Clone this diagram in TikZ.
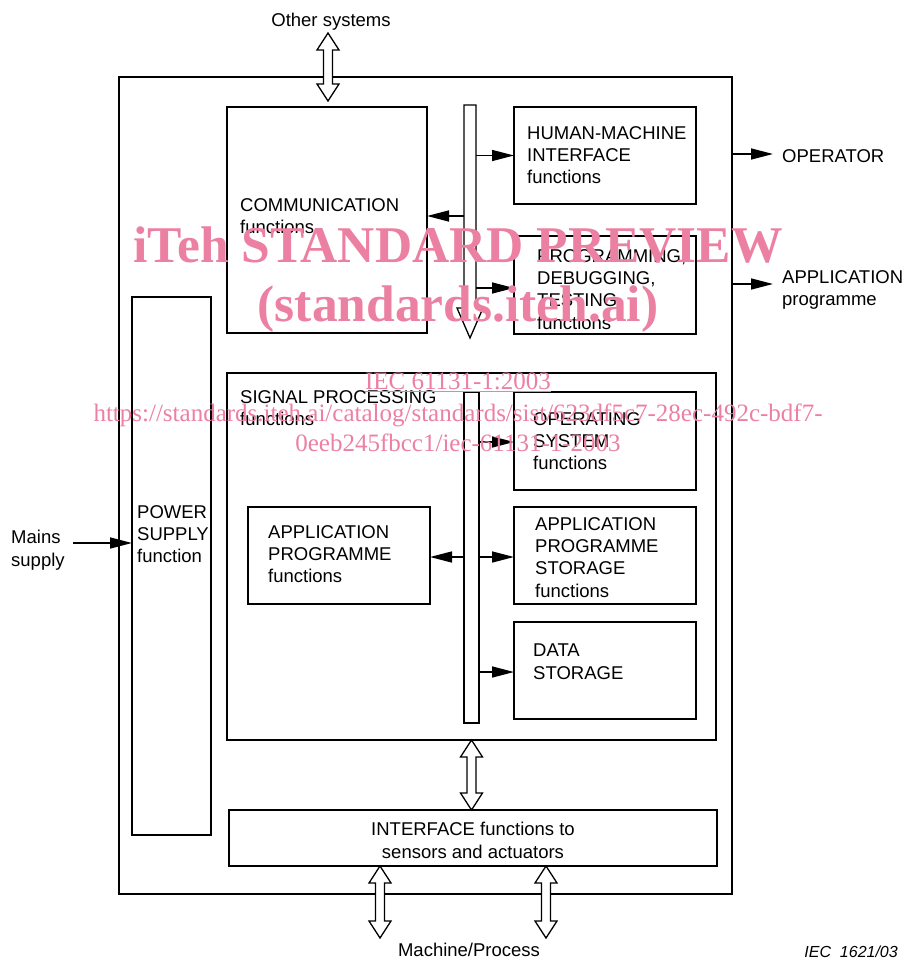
\documentclass[tikz,border=0pt]{standalone}
\usepackage{fontspec}
\setmainfont{Liberation Sans}
\newfontfamily\wmfont{Liberation Serif}
\usetikzlibrary{arrows.meta,calc}
\definecolor{wmpink}{RGB}{236,128,162}
\newcommand\hollowdbl[2]{%
  \draw[hollow] let \p1=#1, \p2=#2 in
    (\x1,\y1) -- (\x1+11pt,\y1-17pt) -- (\x1+4.5pt,\y1-17pt) -- (\x1+4.5pt,\y2+17pt)
    -- (\x1+11pt,\y2+17pt) -- (\x1,\y2) -- (\x1-11pt,\y2+17pt) -- (\x1-4.5pt,\y2+17pt)
    -- (\x1-4.5pt,\y1-17pt) -- (\x1-11pt,\y1-17pt) -- cycle;}
\begin{document}
\begin{tikzpicture}[x=1pt,y=-1pt,
  box/.style={draw, line width=1.5pt, inner sep=0pt, outer sep=0pt, anchor=north west},
  hollow/.style={draw, fill=white, line width=1.3pt, line join=miter},
  conn/.style={line width=1.5pt, -{Triangle[length=22pt,width=11pt]}},
  lbl/.style={font=\fontsize{18.5}{22.4}\selectfont, align=left, inner sep=0pt, anchor=north west},
  wm/.style={text=wmpink, inner sep=0pt, anchor=base}]
\useasboundingbox (0,0) rectangle (906,960);

% frame and boxes
\node[box, minimum width=613pt, minimum height=817pt] (frame) at (119,77) {};
\node[box, minimum width=200pt, minimum height=226pt] (comm) at (227,107) {};
\node[box, minimum width=182pt, minimum height=97pt] (hmi) at (514,107) {};
\node[box, minimum width=182pt, minimum height=98pt] (prog) at (514,236) {};
\node[box, minimum width=79pt, minimum height=538pt] (power) at (132,297) {};
\node[box, minimum width=489pt, minimum height=367pt] (sp) at (227,373) {};
\node[box, minimum width=182pt, minimum height=98pt] (os) at (514,392) {};
\node[box, minimum width=182pt, minimum height=97pt] (ap) at (248,507) {};
\node[box, minimum width=182pt, minimum height=97pt] (aps) at (514,507) {};
\node[box, minimum width=182pt, minimum height=97pt] (data) at (514,622) {};
\node[box, minimum width=488pt, minimum height=56pt] (iface) at (229,810) {};

% buses
\node[inner sep=0pt, outer sep=0pt, minimum width=12pt, minimum height=203pt, anchor=north] (bus1) at (470,105) {};
\draw[hollow] (bus1.north west) -- (bus1.north east) -- (bus1.south east) -- ++(7pt,0pt)
  -- ($(bus1.south)+(0,30)$) -- ($(bus1.south west)+(-7,0)$) -- (bus1.south west) -- cycle;
\node[box, anchor=north, minimum width=15pt, minimum height=331pt] (bus2) at (471.5,392) {};

% labels
\node[lbl] (commt) at (240,198) {COMMUNICATION\\functions};
\node[lbl] (hmit) at (527,126) {HUMAN-MACHINE\\INTERFACE\\functions};
\node[lbl] (progt) at (537,249) {PROGRAMMING,\\DEBUGGING,\\TESTING\\functions};
\node[lbl] (spt) at (240,390) {SIGNAL PROCESSING\\functions};
\node[lbl] (ost) at (533,412) {OPERATING\\SYSTEM\\functions};
\node[lbl] (apt) at (268,525) {APPLICATION\\PROGRAMME\\functions};
\node[lbl] (apst) at (535,517) {APPLICATION\\PROGRAMME\\STORAGE\\functions};
\node[lbl] (datat) at (533,644) {DATA\\STORAGE};
\node[lbl] (powert) at (137,505) {POWER\\SUPPLY\\function};
\node[lbl] (mainst) at (11,530) {Mains\\supply};
\node[lbl] (opt) at (782,149) {OPERATOR};
\node[lbl] (applt) at (782,270) {APPLICATION\\programme};
\node[lbl, align=center, anchor=north] (ifacet) at (473,822) {INTERFACE functions to\\sensors and actuators};
\node[lbl, anchor=north] (othert) at (331,13) {Other systems};
\node[lbl, anchor=north] (macht) at (469,943) {Machine/Process};
\node[inner sep=0pt, anchor=base east, font=\fontsize{16}{18}\selectfont\itshape] (ieclbl) at (898,957) {IEC\ \ 1621/03};

% connectors from buses
\coordinate (y216) at (0,216);
\coordinate (y288) at (0,288);
\draw[conn] (bus1.east |- hmi.west) -- (hmi.west);
\draw[conn] (bus1.west |- y216) -- (comm.east |- y216);
\draw[conn] (bus1.east |- y288) -- (prog.west |- y288);
\coordinate (y442) at (0,442);
\coordinate (y557) at (0,557);
\coordinate (y672) at (0,672);
\draw[conn] (bus2.east |- y442) -- (os.west |- y442);
\draw[conn] (bus2.west |- y557) -- (ap.east |- y557);
\draw[conn] (bus2.east |- y557) -- (aps.west |- y557);
\draw[conn] (bus2.east |- y672) -- (data.west |- y672);

% outside arrows
\coordinate (opend) at (773,154);
\coordinate (apend) at (773,284);
\draw[conn] (frame.east |- opend) -- (opend);
\draw[conn] (frame.east |- apend) -- (apend);
\coordinate (mainsstart) at (73,543);
\draw[conn] (mainsstart) -- (mainsstart -| power.west);

% hollow double arrows
\coordinate (o1) at (328,33);
\coordinate (o2) at (328,101);
\hollowdbl{(o1)}{(o2)}
\hollowdbl{(sp.south)}{(sp.south |- iface.north)}
\coordinate (m1) at (380,938);
\coordinate (m2) at (546,938);
\hollowdbl{(m1 |- iface.south)}{(m1)}
\hollowdbl{(m2 |- iface.south)}{(m2)}

% watermark
\node[wm, font=\wmfont\bfseries\fontsize{51.5}{51.5}\selectfont] (wm1) at (458,262) {iTeh STANDARD PREVIEW};
\node[wm, font=\wmfont\bfseries\fontsize{51.5}{51.5}\selectfont] (wm2) at (458,321) {(standards.iteh.ai)};
\node[wm, font=\wmfont\fontsize{25}{25}\selectfont] (wm3) at (458,389) {\underline{IEC 61131-1:2003}};
\node[wm, font=\wmfont\fontsize{25}{25}\selectfont] (wm4) at (458,421) {https://standards.iteh.ai/catalog/standards/sist/623df5c7-28ec-492c-bdf7-};
\node[wm, font=\wmfont\fontsize{25}{25}\selectfont] (wm5) at (458,451) {0eeb245fbcc1/iec-61131-1-2003};
\end{tikzpicture}
\end{document}
